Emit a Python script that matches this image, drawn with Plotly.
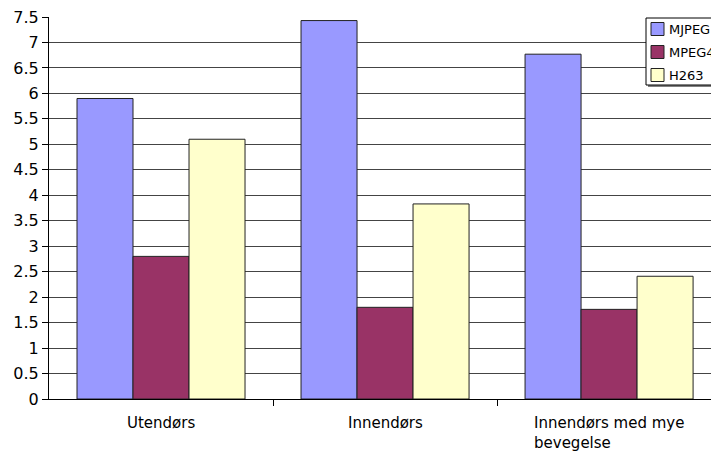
import plotly.graph_objects as go

categories = ["Utendørs", "Innendørs", "Innendørs med mye bevegelse"]
category_labels = ["Utendørs", "Innendørs", "Innendørs med mye<br>bevegelse"]
series_names = ["MJPEG", "MPEG4", "H263"]
mjpeg = [5.9, 7.43, 6.77]
mpeg4 = [2.8, 1.8, 1.76]
h263 = [5.1, 3.83, 2.41]
colors = ["#9999FF", "#993366", "#FFFFCC"]
y_ticks = [0, 0.5, 1, 1.5, 2, 2.5, 3, 3.5, 4, 4.5, 5, 5.5, 6, 6.5, 7, 7.5]

W, H = 711, 452
L, R, T, B = 49, 0, 17, 53
pw, ph = W - L - R, H - T - B


def px(x):
    return (x - L) / pw


def py(y):
    return (H - B - y) / ph


fig = go.Figure()
for name, vals, col in zip(series_names, [mjpeg, mpeg4, h263], colors):
    fig.add_trace(go.Bar(
        x=list(range(len(categories))), y=vals, name=name,
        marker=dict(color=col, line=dict(color="#222222", width=1)),
    ))

for i, lab in enumerate(category_labels):
    fig.add_annotation(
        x=i, y=0, xref="x", yref="y", yshift=-13, text=lab,
        showarrow=False, xanchor="center", yanchor="top", align="left",
        font=dict(family="DejaVu Sans", size=15, color="#000000"),
    )

# manual legend (clipped at right edge like the reference)
shapes = []
shapes.append(dict(type="rect", xref="paper", yref="paper",
                   x0=px(648), x1=px(730), y0=py(87), y1=py(20),
                   fillcolor="#808080", line=dict(width=0), layer="above"))
shapes.append(dict(type="rect", xref="paper", yref="paper",
                   x0=px(646), x1=px(728), y0=py(85), y1=py(18),
                   fillcolor="white", line=dict(color="#000000", width=1), layer="above"))
for k, (name, col) in enumerate(zip(series_names, colors)):
    cy = 29 + 23 * k
    shapes.append(dict(type="rect", xref="paper", yref="paper",
                       x0=px(651), x1=px(664), y0=py(cy + 6.5), y1=py(cy - 6.5),
                       fillcolor=col, line=dict(color="#222222", width=1), layer="above"))
    fig.add_annotation(
        x=px(667), y=py(cy), xref="paper", yref="paper", text=name,
        showarrow=False, xanchor="left", yanchor="middle",
        font=dict(family="DejaVu Sans", size=13, color="#000000"),
    )

fig.update_layout(
    width=W, height=H,
    margin=dict(l=L, r=R, t=T, b=B),
    paper_bgcolor="white", plot_bgcolor="white",
    barmode="group", bargap=0.25, bargroupgap=0,
    font=dict(family="DejaVu Sans", size=16, color="#000000"),
    showlegend=False,
    shapes=shapes,
    xaxis=dict(
        range=[-0.5, 2.455], showticklabels=False,
        tickvals=[0.5, 1.5], ticks="outside", ticklen=6, tickcolor="#000000",
        showgrid=False, showline=True, linecolor="#000000", linewidth=1,
        zeroline=False,
    ),
    yaxis=dict(
        range=[0, 7.5], tickvals=y_ticks,
        ticktext=[("%g" % v) for v in y_ticks],
        ticks="outside", ticklen=6, tickcolor="#000000",
        showgrid=True, gridcolor="#444444", gridwidth=1,
        showline=True, linecolor="#000000", linewidth=1,
        zeroline=False, tickfont=dict(size=16),
    ),
)

fig.write_html("out.html")
